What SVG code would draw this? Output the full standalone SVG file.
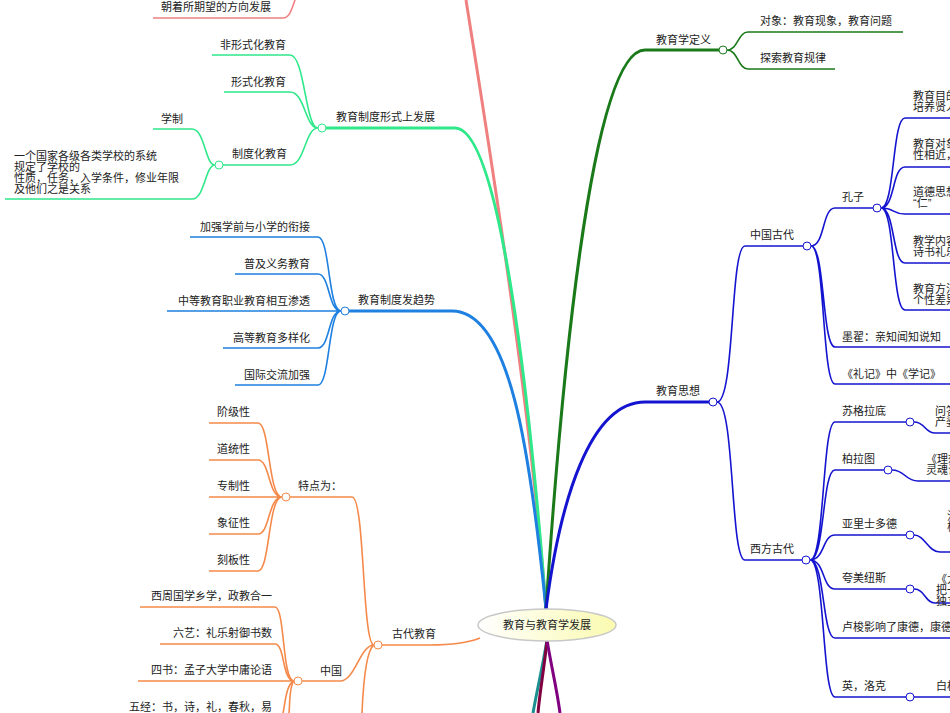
<svg xmlns="http://www.w3.org/2000/svg" width="950" height="713" viewBox="0 0 950 713">
<style>
text{font-family:"Liberation Sans","Noto Sans CJK SC",sans-serif;font-size:11px;fill:#222}
.e{text-anchor:end}
path{fill:none;stroke-width:1.6}
.m{stroke-width:3}
.pk{stroke:#f08080}.gr{stroke:#2ee88a}.bl{stroke:#1e80e0}.or{stroke:#f5894a}.dg{stroke:#1a7a1a}.nb{stroke:#1414d0}
circle{fill:#fff;stroke-width:1}
</style>
<defs><linearGradient id="g" x1="0" x2="1"><stop offset="0" stop-color="#fff"/><stop offset="1" stop-color="#fafab0"/></linearGradient></defs>
<g id="connectors">
<path class="pk m" d="M546,609 C530,400 490,150 466,0"/>
<path class="pk" d="M153,18 L283,18 C290,18 292,8 295,0"/>
<path class="gr m" d="M546,609 C530,400 500,128 455,128 L322,128"/>
<path class="gr" d="M318,128 C305,128 305,55 290,55 L212,55 M318,128 C305,128 305,92 290,92 L224,92 M318,128 C305,128 305,165 290,165 L219,165 M215,165 C205,165 205,129 192,129 L153,129 M215,165 C205,165 205,199 192,199 L5,199"/>
<path class="bl m" d="M546,609 C530,450 510,311 452,311 L345,311"/>
<path class="bl" d="M341,311 C328,311 330,237 318,237 L190,237 M341,311 C328,311 330,274 318,274 L235,274 M341,311 L167,311 M341,311 C328,311 330,348 318,348 L223,348 M341,311 C328,311 330,385 318,385 L235,385"/>
<path class="or" d="M480,638 C470,642 450,645 430,645 L378,645 M374,645 C362,645 365,497 352,497 L286,497 M282,497 C268,497 270,423 258,423 L209,423 M282,497 C268,497 270,460 258,460 L209,460 M282,497 L209,497 M282,497 C268,497 270,534 258,534 L209,534 M282,497 C268,497 270,571 258,571 L209,571 M374,645 C360,645 355,681 340,681 L298,681 M374,645 C366,650 363,690 362,713 M294,681 C282,681 285,607 275,607 L140,607 M294,681 C282,681 285,644 275,644 L160,644 M294,681 L138,681 M294,681 C286,684 285,705 283,713 M294,681 C289,686 290,705 289,713"/>
<path class="dg m" d="M546,609 C560,400 590,50 645,50 L723,50"/>
<path class="dg" d="M727,50 C738,50 738,32 748,32 L903,32 M727,50 C738,50 738,69 748,69 L835,69"/>
<path class="nb m" d="M546,609 C560,500 590,402 645,402 L713,402"/>
<path class="nb" d="M717,402 C735,402 730,246 745,246 L807,246 M717,402 C735,402 730,560 745,560 L806,560 M811,246 C825,246 822,208 835,208 L877,208 M811,246 C825,246 822,347 835,347 L950,347 M811,246 C825,246 822,384 835,384 L950,384 M881,208 C895,208 892,118 905,118 L950,118 M881,208 C895,208 892,167 905,167 L950,167 M881,208 C895,208 892,214 905,214 L950,214 M881,208 C895,208 892,263 905,263 L950,263 M881,208 C895,208 892,310 905,310 L950,310 M810,560 C825,560 822,422 835,422 L910,422 M810,560 C825,560 822,470 835,470 L888,470 M810,560 C825,560 822,535 835,535 L910,535 M810,560 C825,560 822,589 835,589 L910,589 M810,560 C825,560 822,638 835,638 L950,638 M810,560 C825,560 822,697 835,697 L910,697 M914,422 C925,422 925,433 935,433 L950,433 M892,470 C905,470 905,481 918,481 L950,481 M914,535 C925,535 928,552 940,552 L950,552 M914,589 C925,589 925,603 935,603 L950,603 M914,697 L950,697"/>
<path class="m" stroke="#1a9090" d="M547,640 C542,670 537,690 533,713"/>
<path class="m" stroke="#800040" d="M547,640 C544,670 540,690 538,713"/>
<path class="m" stroke="#800080" d="M547,640 C552,670 557,690 560,713"/>
</g>
<g id="center"><ellipse cx="547" cy="625" rx="69" ry="16" fill="url(#g)" stroke="#c8c8c8" stroke-width="1.5"/><text x="547" y="629" text-anchor="middle">教育与教育学发展</text></g>
<g id="pink"><text x="161" y="11">朝着所期望的方向发展</text></g>
<g id="green"><circle class="gr" cx="322" cy="128" r="4"/><text x="336" y="121">教育制度形式上发展</text>
<text x="220" y="49">非形式化教育</text><text x="231" y="86">形式化教育</text><text x="232" y="158">制度化教育</text>
<circle class="gr" cx="219" cy="165" r="4"/><text x="161" y="123">学制</text>
<text x="14" y="160">一个国家各级各类学校的系统</text><text x="14" y="171">规定了学校的</text><text x="14" y="182">性质，任务，入学条件，修业年限</text><text x="14" y="193">及他们之是关系</text></g>
<g id="blue"><circle class="bl" cx="345" cy="311" r="4"/><text x="358" y="304">教育制度发趋势</text>
<text class="e" x="310" y="231">加强学前与小学的衔接</text><text class="e" x="310" y="268">普及义务教育</text><text class="e" x="310" y="305">中等教育职业教育相互渗透</text><text class="e" x="310" y="342">高等教育多样化</text><text class="e" x="310" y="379">国际交流加强</text></g>
<g id="orange"><circle class="or" cx="378" cy="645" r="4"/><text x="392" y="638">古代教育</text>
<circle class="or" cx="286" cy="497" r="4"/><text x="298" y="490">特点为：</text>
<text x="217" y="416">阶级性</text><text x="217" y="453">道统性</text><text x="217" y="490">专制性</text><text x="217" y="527">象征性</text><text x="217" y="564">刻板性</text>
<circle class="or" cx="298" cy="681" r="4"/><text x="320" y="675">中国</text>
<text class="e" x="272" y="600">西周国学乡学，政教合一</text><text class="e" x="272" y="637">六艺：礼乐射御书数</text><text class="e" x="272" y="674">四书：孟子大学中庸论语</text><text class="e" x="272" y="711">五经：书，诗，礼，春秋，易</text></g>
<g id="def"><circle class="dg" cx="723" cy="50" r="4"/><text x="656" y="44">教育学定义</text><text x="760" y="25">对象：教育现象，教育问题</text><text x="760" y="62">探索教育规律</text></g>
<g id="thought"><circle class="nb" cx="713" cy="402" r="4"/><text x="656" y="395">教育思想</text>
<circle class="nb" cx="807" cy="246" r="4"/><text x="750" y="239">中国古代</text>
<circle class="nb" cx="877" cy="208" r="4"/><text x="842" y="201">孔子</text>
<text x="913" y="100">教育目的</text><text x="913" y="111">培养贤人</text>
<text x="913" y="148">教育对象</text><text x="913" y="159">性相近，</text>
<text x="913" y="196">道德思想</text><text x="913" y="207">“仁”</text>
<text x="913" y="245">教学内容</text><text x="913" y="256">诗书礼乐</text>
<text x="913" y="293">教育方法</text><text x="913" y="304">个性差异</text>
<text x="842" y="341">墨翟：亲知闻知说知</text><text x="842" y="378">《礼记》中《学记》</text>
<circle class="nb" cx="806" cy="560" r="4"/><text x="750" y="553">西方古代</text>
<circle class="nb" cx="910" cy="422" r="4"/><text x="842" y="415">苏格拉底</text><text x="935" y="415">问答</text><text x="935" y="426">产婆</text>
<circle class="nb" cx="888" cy="470" r="4"/><text x="842" y="463">柏拉图</text><text x="926" y="463">《理想国》</text><text x="926" y="474">灵魂说</text>
<circle class="nb" cx="910" cy="535" r="4"/><text x="842" y="528">亚里士多德</text><text x="947" y="520">注</text><text x="947" y="531">极</text>
<circle class="nb" cx="910" cy="589" r="4"/><text x="842" y="582">夸美纽斯</text><text x="936" y="583">《大</text><text x="936" y="594">把一</text><text x="936" y="605">独立</text>
<text x="842" y="631">卢梭影响了康德，康德</text>
<circle class="nb" cx="910" cy="697" r="4"/><text x="842" y="690">英，洛克</text><text x="936" y="690">白板</text></g>
</svg>
